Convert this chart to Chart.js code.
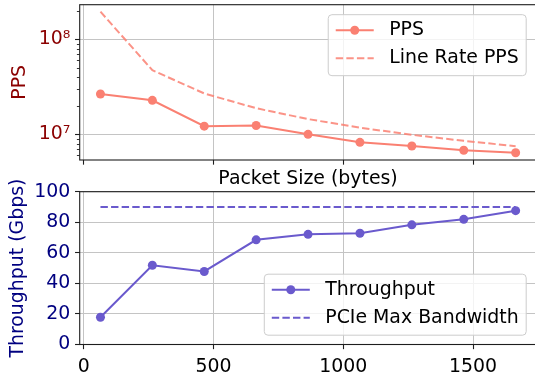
<!DOCTYPE html>
<html>
<head>
<meta charset="utf-8">
<script src="https://cdn.jsdelivr.net/npm/chart.js@4.4.1/dist/chart.umd.min.js"></script>
<style>
  html, body { margin: 0; padding: 0; background: #fff; overflow: hidden; }
  body { width: 535px; height: 376px; position: relative; }
  canvas { position: absolute; left: 0; }
  #ppsCanvas { top: 0; }
  #tputCanvas { top: 170px; }
</style>
</head>
<body>
<canvas id="ppsCanvas" width="548" height="190"></canvas>
<canvas id="tputCanvas" width="548" height="206"></canvas>
<script>
// data
const packetSizes = [64, 264, 464, 664, 864, 1064, 1264, 1464, 1664];
const ppsValues = [2.66e7, 2.28e7, 1.22e7, 1.24e7, 1.0e7, 8.24e6, 7.53e6, 6.8e6, 6.4e6];
const lineRatePps = [1.953e8, 4.735e7, 2.694e7, 1.883e7, 1.447e7, 1.175e7, 9.89e6, 8.54e6, 7.51e6];
const throughput = [17.8, 51.9, 47.8, 68.5, 72.1, 72.8, 78.3, 81.9, 87.6];
const pcieMax = [90, 90, 90, 90, 90, 90, 90, 90, 90];

// ticks
const xTicks = [0, 500, 1000, 1500];
const ppsMajorTicks = [1e7, 1e8];
const ppsTickLabels = ["10⁷", "10⁸"];
const ppsMinorTicks = [6e6, 7e6, 8e6, 9e6, 2e7, 3e7, 4e7, 5e7, 6e7, 7e7, 8e7, 9e7, 2e8];
const tputTicks = [0, 20, 40, 60, 80, 100];

const SALMON = "#fa8072";
const SALMON_DASH = "rgba(250,128,114,0.85)";
const SLATE = "#6a5acd";
const GRID = "#c4c4c4";
const SPINE = "#1e1e1e";
const FONT_SIZE = 18.9;

Chart.defaults.font.family = "'DejaVu Sans'";
Chart.defaults.font.size = FONT_SIZE;
Chart.defaults.color = "#000";

function points(ys) {
    return packetSizes.map((x, i) => ({ x: x, y: ys[i] }));
}

// top + right spines (the axes only give left/bottom)
const framePlugin = {
    id: "frame",
    afterDatasetsDraw(chart) {
        const { ctx, chartArea: a } = chart;
        ctx.save();
        ctx.strokeStyle = SPINE;
        ctx.lineWidth = 1.1;
        ctx.strokeRect(a.left, a.top, a.right - a.left, a.bottom - a.top);
        ctx.restore();
    }
};

// short minor ticks on the log axis
const minorTicksPlugin = {
    id: "minorTicks",
    afterDraw(chart, args, opts) {
        if (!opts.values) return;
        const s = chart.scales.y;
        const ctx = chart.ctx;
        ctx.save();
        ctx.strokeStyle = SPINE;
        ctx.lineWidth = 0.9;
        for (const v of opts.values) {
            if (v < s.min || v > s.max) continue;
            const py = Math.round(s.getPixelForValue(v)) + 0.5;
            ctx.beginPath();
            ctx.moveTo(s.right - 2.8, py);
            ctx.lineTo(s.right, py);
            ctx.stroke();
        }
        ctx.restore();
    }
};

// matplotlib-style legend box
const mplLegend = {
    id: "mplLegend",
    afterDraw(chart, args, opts) {
        const { ctx, chartArea: a } = chart;
        const sets = chart.data.datasets;
        ctx.save();
        ctx.font = FONT_SIZE + "px 'DejaVu Sans'";
        const textW = Math.max(...sets.map(d => ctx.measureText(d.label).width));
        const pad = 7.5, handle = 38, gap = 15.5;
        const w = pad + handle + gap + textW + pad;
        const h = 61;
        const x = a.right - 10.2 - w;
        const y = opts.corner === "top" ? a.top + 10 : a.bottom - 9.3 - h;
        const r = 3.7;

        ctx.beginPath();
        ctx.moveTo(x + r, y);
        ctx.lineTo(x + w - r, y);
        ctx.arcTo(x + w, y, x + w, y + r, r);
        ctx.lineTo(x + w, y + h - r);
        ctx.arcTo(x + w, y + h, x + w - r, y + h, r);
        ctx.lineTo(x + r, y + h);
        ctx.arcTo(x, y + h, x, y + h - r, r);
        ctx.lineTo(x, y + r);
        ctx.arcTo(x, y, x + r, y, r);
        ctx.closePath();
        ctx.fillStyle = "rgba(255,255,255,0.8)";
        ctx.fill();
        ctx.strokeStyle = "#cccccc";
        ctx.lineWidth = 1;
        ctx.stroke();

        sets.forEach((d, i) => {
            const cy = y + 15.5 + 28 * i;
            ctx.beginPath();
            ctx.setLineDash(d.borderDash || []);
            ctx.strokeStyle = d.borderColor;
            ctx.lineWidth = 2;
            ctx.moveTo(x + pad, cy);
            ctx.lineTo(x + pad + handle, cy);
            ctx.stroke();
            ctx.setLineDash([]);
            if (d.pointRadius > 0) {
                ctx.beginPath();
                ctx.fillStyle = d.borderColor;
                ctx.arc(x + pad + handle / 2, cy, d.pointRadius, 0, Math.PI * 2);
                ctx.fill();
            }
            ctx.fillStyle = "#000";
            ctx.textAlign = "left";
            ctx.textBaseline = "middle";
            ctx.fillText(d.label, x + pad + handle + gap, cy);
        });
        ctx.restore();
    }
};

function xScale(height, showLabels, titleText) {
    return {
        type: "linear",
        min: -16,
        max: 1744,
        afterBuildTicks: s => { s.ticks = xTicks.map(v => ({ value: v })); },
        afterFit: s => { s.height = height; s.paddingLeft = 0; s.paddingRight = 0; },
        ticks: {
            display: showLabels,
            autoSkip: false,
            maxRotation: 0,
            padding: 6.5,
            color: "#000",
            callback: v => String(v)
        },
        grid: { color: GRID, lineWidth: 1, tickLength: 4.67, tickColor: SPINE, tickWidth: 1.1 },
        border: { display: false },
        title: { display: !!titleText, text: titleText, color: "#000", padding: 0 }
    };
}

// PPS (log scale)
new Chart(document.getElementById("ppsCanvas"), {
    type: "line",
    data: {
        datasets: [
            {
                label: "PPS",
                data: points(ppsValues),
                borderColor: SALMON,
                backgroundColor: SALMON,
                borderWidth: 2,
                pointRadius: 4.5,
                pointBorderWidth: 0,
                pointBackgroundColor: SALMON
            },
            {
                label: "Line Rate PPS",
                data: points(lineRatePps),
                borderColor: SALMON_DASH,
                borderDash: [7.4, 3.2],
                borderWidth: 2,
                pointRadius: 0
            }
        ]
    },
    options: {
        responsive: false,
        animation: false,
        devicePixelRatio: 1,
        layout: { padding: { left: 0, right: 11.6, top: 4.7, bottom: 0 } },
        plugins: {
            legend: { display: false },
            tooltip: { enabled: false },
            mplLegend: { corner: "top" },
            minorTicks: { values: ppsMinorTicks }
        },
        scales: {
            x: xScale(30, false, "Packet Size (bytes)"),
            y: {
                type: "logarithmic",
                min: 5.37e6,
                max: 2.314e8,
                afterBuildTicks: s => { s.ticks = ppsMajorTicks.map(v => ({ value: v })); },
                afterFit: s => { s.width = 79.7; s.paddingTop = 0; s.paddingBottom = 0; },
                ticks: {
                    autoSkip: false,
                    padding: 4.67,
                    color: "#8b0000",
                    callback: v => {
                        const i = ppsMajorTicks.indexOf(v);
                        return i >= 0 ? ppsTickLabels[i] : "";
                    }
                },
                grid: { color: GRID, lineWidth: 1, tickLength: 4.67, tickColor: SPINE, tickWidth: 1.1 },
                border: { display: false },
                title: { display: true, text: "PPS", color: "#8b0000", padding: { top: 8.5, bottom: 0 } }
            }
        }
    },
    plugins: [framePlugin, minorTicksPlugin, mplLegend]
});

// Throughput
new Chart(document.getElementById("tputCanvas"), {
    type: "line",
    data: {
        datasets: [
            {
                label: "Throughput",
                data: points(throughput),
                borderColor: SLATE,
                backgroundColor: SLATE,
                borderWidth: 2,
                pointRadius: 4.5,
                pointBorderWidth: 0,
                pointBackgroundColor: SLATE
            },
            {
                label: "PCIe Max Bandwidth",
                data: points(pcieMax),
                borderColor: SLATE,
                borderDash: [7.4, 3.2],
                borderWidth: 2,
                pointRadius: 0
            }
        ]
    },
    options: {
        responsive: false,
        animation: false,
        devicePixelRatio: 1,
        layout: { padding: { left: 0, right: 11.6, top: 21.7, bottom: 0 } },
        plugins: {
            legend: { display: false },
            tooltip: { enabled: false },
            mplLegend: { corner: "bottom" }
        },
        scales: {
            x: xScale(31.5, true, ""),
            y: {
                type: "linear",
                min: 0,
                max: 100,
                afterBuildTicks: s => { s.ticks = tputTicks.map(v => ({ value: v })); },
                afterFit: s => { s.width = 79.7; s.paddingTop = 0; s.paddingBottom = 0; },
                ticks: { autoSkip: false, padding: 4.67, color: "#000080" },
                grid: { color: GRID, lineWidth: 1, tickLength: 4.67, tickColor: SPINE, tickWidth: 1.1 },
                border: { display: false },
                title: { display: true, text: "Throughput (Gbps)", color: "#000080", padding: { top: 7, bottom: 0 } }
            }
        }
    },
    plugins: [framePlugin, mplLegend]
});
</script>
</body>
</html>
